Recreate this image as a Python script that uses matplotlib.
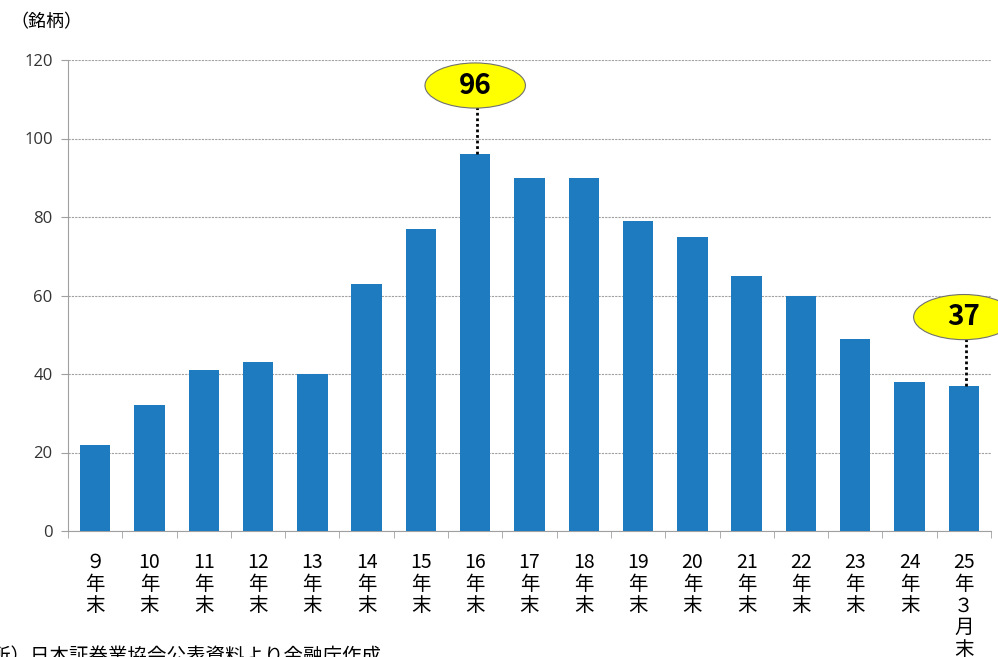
import matplotlib.pyplot as plt
from matplotlib.patches import Ellipse

plt.rcParams["font.family"] = ["Noto Sans CJK JP", "DejaVu Sans"]

# data
years = ["９", "10", "11", "12", "13", "14", "15", "16", "17",
         "18", "19", "20", "21", "22", "23", "24", "25"]
suffixes = ["年\n末"] * 16 + ["年\n３\n月\n末"]
counts = [22, 32, 41, 43, 40, 63, 77, 96, 90, 90, 79, 75, 65, 60, 49, 38, 37]
callouts = [7, 16]  # indices that get a yellow balloon

labels = [f"{y}\n{s}" for y, s in zip(years, suffixes)]
x = list(range(len(counts)))

fig = plt.figure(figsize=(9.98, 6.57), dpi=100)
ax = fig.add_axes([68 / 998, 126 / 657, 923 / 998, 471 / 657])

ax.bar(x, counts, width=0.56, color="#1f7bbf", zorder=3)

ax.set_xlim(-0.5, len(counts) - 0.5)
ax.set_ylim(0, 120)
ax.set_yticks(range(0, 121, 20))
ax.yaxis.grid(True, linestyle=(0, (2, 1)), color="#a0a0a0", linewidth=0.8)
ax.set_axisbelow(True)

ax.set_xticks(x)
ax.set_xticklabels(labels, fontsize=14, linespacing=1.05, va="top")
ax.tick_params(axis="x", length=0, pad=15)
ax.set_xticks([i - 0.5 for i in range(len(counts) + 1)], minor=True)
ax.tick_params(axis="x", which="minor", length=5, color="#a0a0a0")
ax.tick_params(axis="y", length=5, color="#a0a0a0", labelsize=12, pad=6)
for lab in ax.get_yticklabels():
    lab.set_family(["Open Sans", "DejaVu Sans"])
    lab.set_color("#333333")

for side in ["top", "right"]:
    ax.spines[side].set_visible(False)
for side in ["left", "bottom"]:
    ax.spines[side].set_color("#a0a0a0")

# yellow balloons with dotted leaders
for i in callouts:
    v = counts[i]
    cy = v + 17.5
    ax.plot([i + 0.04, i + 0.04], [v, cy - 5.6], color="black",
            linestyle=(0, (1, 1)), linewidth=2, zorder=4, clip_on=False)
    ax.add_patch(Ellipse((i, cy), 1.85, 11.5, facecolor="#ffff00",
                         edgecolor="#707070", linewidth=0.8, zorder=5,
                         clip_on=False))
    ax.text(i, cy, str(v), ha="center", va="center", fontsize=20,
            fontweight="bold", zorder=6)

fig.text(10 / 998, 1 - 22 / 657, "（銘柄）", fontsize=13, va="center")
fig.text(-48 / 998, 1 - 646 / 657, "（出所）日本証券業協会公表資料より金融庁作成",
         fontsize=14, va="top")

fig.savefig("out.png", dpi=100)
